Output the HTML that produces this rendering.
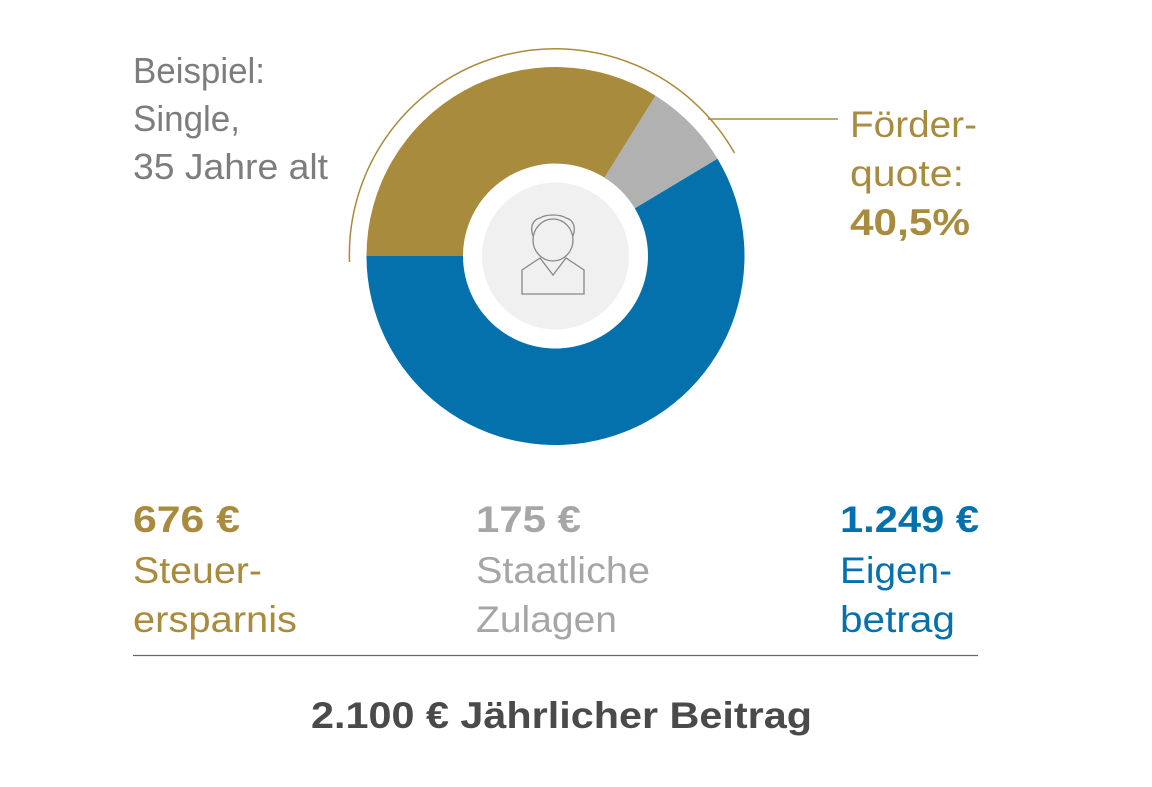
<!DOCTYPE html>
<html><head><meta charset="utf-8"><style>html,body{margin:0;padding:0;background:#fff}svg{display:block}</style></head>
<body>
<svg width="1152" height="787" viewBox="0 0 1152 787" xmlns="http://www.w3.org/2000/svg" font-family="Liberation Sans, Arial, sans-serif">
<!-- donut: center 555.5,256 r 189 inner 92.5 -->
<path d="M366.5,256 A189,189 0 0 1 655.6,95.7 L604.5,177.6 A92.5,92.5 0 0 0 463,256 Z" fill="#a88b3c"/>
<path d="M655.6,95.7 A189,189 0 0 1 717.5,158.7 L634.8,208.4 A92.5,92.5 0 0 0 604.5,177.6 Z" fill="#b1b1b1"/>
<path d="M717.5,158.7 A189,189 0 1 1 366.5,256 L463,256 A92.5,92.5 0 1 0 634.8,208.4 Z" fill="#0470ac"/>
<circle cx="555.5" cy="256" r="73.5" fill="#f0f0f0"/>
<!-- arc -->
<path d="M349.5,262 A206,206 0 0 1 734.5,153" fill="none" stroke="#a88b3c" stroke-width="1.5"/>
<line x1="708" y1="119" x2="838" y2="119" stroke="#a88b3c" stroke-width="1.5"/>
<!-- person icon -->
<g fill="none" stroke="#888" stroke-width="1.3">
<ellipse cx="553" cy="240" rx="20" ry="21"/>
<path d="M533,236 C530,228 532,220 540,218 C546,214 560,214 566,218 C574,220 576,228 573,236"/>
<path d="M540,258 L522,270 L522,294 L584,294 L584,270 L566,258 L553,275 Z"/>
</g>
<!-- texts -->
<g fill="#7d7d7d" font-size="36">
<text x="133" y="83" textLength="132" lengthAdjust="spacingAndGlyphs">Beispiel:</text>
<text x="133" y="131" textLength="107" lengthAdjust="spacingAndGlyphs">Single,</text>
<text x="133" y="179" textLength="195" lengthAdjust="spacingAndGlyphs">35 Jahre alt</text>
</g>
<g fill="#a88b3c" font-size="37">
<text x="850" y="137" textLength="127" lengthAdjust="spacingAndGlyphs">Förder-</text>
<text x="850" y="186" textLength="114" lengthAdjust="spacingAndGlyphs">quote:</text>
<text x="850" y="235" font-weight="bold" textLength="120" lengthAdjust="spacingAndGlyphs">40,5%</text>
<text x="133" y="532" font-weight="bold" textLength="107" lengthAdjust="spacingAndGlyphs">676 €</text>
<text x="133" y="583" textLength="129" lengthAdjust="spacingAndGlyphs">Steuer-</text>
<text x="133" y="632" textLength="164" lengthAdjust="spacingAndGlyphs">ersparnis</text>
</g>
<g fill="#a6a6a6" font-size="37">
<text x="476" y="532" font-weight="bold" textLength="105" lengthAdjust="spacingAndGlyphs">175 €</text>
<text x="476" y="583" textLength="174" lengthAdjust="spacingAndGlyphs">Staatliche</text>
<text x="476" y="632" textLength="141" lengthAdjust="spacingAndGlyphs">Zulagen</text>
</g>
<g fill="#0470ac" font-size="37">
<text x="840" y="532" font-weight="bold" textLength="139" lengthAdjust="spacingAndGlyphs">1.249 €</text>
<text x="840" y="583" textLength="112" lengthAdjust="spacingAndGlyphs">Eigen-</text>
<text x="840" y="632" textLength="115" lengthAdjust="spacingAndGlyphs">betrag</text>
</g>
<line x1="133" y1="655.5" x2="978" y2="655.5" stroke="#666" stroke-width="1.2"/>
<text x="311" y="728" fill="#4a4a4a" font-size="37" font-weight="bold" textLength="501" lengthAdjust="spacingAndGlyphs">2.100 € Jährlicher Beitrag</text>
</svg>
</body></html>
